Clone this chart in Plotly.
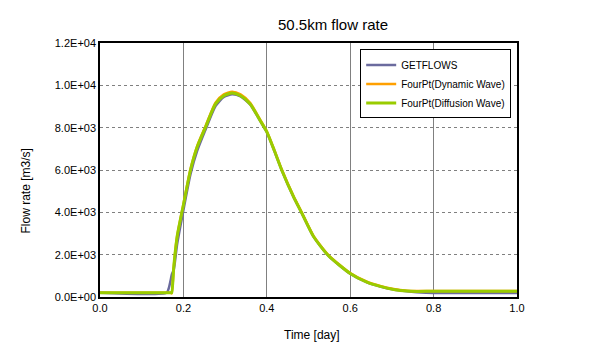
import plotly.graph_objects as go

# ---- data ----
time_day = [0.0, 0.16, 0.165, 0.17, 0.172, 0.177, 0.185, 0.2, 0.217, 0.233, 0.253,
            0.277, 0.297, 0.317, 0.337, 0.36, 0.384, 0.4, 0.418, 0.436, 0.464, 0.484,
            0.512, 0.548, 0.6, 0.64, 0.672, 0.704, 0.736, 0.76, 0.8, 1.0]

getflows = [200, 200, 420, 850, 1050, 1300, 2500, 4100, 5800, 6900, 7900,
            9020, 9450, 9580, 9480, 9100, 8320, 7780, 6900, 5980, 4730, 3950,
            2850, 1940, 1100, 690, 490, 350, 270, 230, 190, 190]

dynamic_wave = [200, 200, 200, 200, 170, 1450, 2880, 4380, 6040, 7130, 8070,
                9180, 9570, 9700, 9570, 9170, 8380, 7830, 6950, 6020, 4770, 3990,
                2890, 1980, 1130, 720, 520, 380, 300, 280, 280, 280]

diffusion_wave = [200, 200, 200, 200, 200, 1450, 2860, 4350, 6000, 7085, 8020,
                  9120, 9510, 9640, 9510, 9120, 8340, 7800, 6920, 5990, 4740, 3960,
                  2860, 1950, 1110, 700, 500, 357, 280, 265, 270, 270]

y_tick_vals = [0, 2000, 4000, 6000, 8000, 10000, 12000]
y_tick_text = ["0.0E+00", "2.0E+03", "4.0E+03", "6.0E+03", "8.0E+03", "1.0E+04", "1.2E+04"]
x_tick_vals = [0, 0.2, 0.4, 0.6, 0.8, 1.0]

series_names = ["GETFLOWS", "FourPt(Dynamic Wave)", "FourPt(Diffusion Wave)"]
series_colors = ["#6b6b9e", "#ffa000", "#99cc00"]

fig = go.Figure()
for name, vals, col, w in zip(series_names, [getflows, dynamic_wave, diffusion_wave],
                              series_colors, [2.5, 2.5, 3]):
    fig.add_trace(go.Scatter(x=time_day, y=vals, mode="lines", name=name,
                             line=dict(color=col, width=w, shape="spline", smoothing=0.6)))

OFF = 8  # browser body margin
W, H = 608 - OFF, 361 - OFF
# plot-area edges in reference window pixels
L, R, T, B = 99.5 - OFF, 517 - OFF, 42.5 - OFF, 297.5 - OFF


def px_to_paper(xp, yp):
    """window pixel (top-left origin) -> paper coordinates"""
    xp -= OFF
    yp -= OFF
    return (xp - L) / (R - L), (B - yp) / (B - T)


lx, ly = px_to_paper(360, 49)
tx, ty = px_to_paper(333, 24)
ax_x, ax_y = px_to_paper(312, 336)
ay_x, ay_y = px_to_paper(25, 191)

fig.update_layout(
    width=W, height=H,
    margin=dict(l=L, r=W - R, t=T, b=H - B, pad=0),
    paper_bgcolor="white", plot_bgcolor="white",
    font=dict(family="Liberation Sans, Arial, sans-serif", size=11, color="black"),
    showlegend=True,
    legend=dict(x=lx, y=ly, xanchor="left", yanchor="top",
                bgcolor="white", bordercolor="black", borderwidth=1,
                font=dict(size=10, family="Liberation Sans, Arial, sans-serif"),
                tracegroupgap=0, itemwidth=30),
    xaxis=dict(range=[0, 1], tickvals=x_tick_vals, tickformat=".1f",
               showgrid=True, gridcolor="#808080", gridwidth=1,
               showline=True, linecolor="black", linewidth=1.5, mirror=True,
               ticks="", zeroline=False, tickfont=dict(size=11)),
    yaxis=dict(range=[0, 12000], tickvals=y_tick_vals, ticktext=y_tick_text,
               showgrid=True, gridcolor="#808080", gridwidth=1, griddash="dot",
               showline=True, linecolor="black", linewidth=1.5, mirror=True,
               ticks="", zeroline=False, tickfont=dict(size=11)),
    annotations=[
        dict(text="50.5km flow rate", x=tx, y=ty, xref="paper", yref="paper",
             xanchor="center", yanchor="middle", showarrow=False, font=dict(size=15)),
        dict(text="Time [day]", x=ax_x, y=ax_y, xref="paper", yref="paper",
             xanchor="center", yanchor="middle", showarrow=False, font=dict(size=12)),
        dict(text="Flow rate [m3/s]", x=ay_x, y=ay_y, xref="paper", yref="paper",
             xanchor="center", yanchor="middle", showarrow=False, textangle=-90,
             font=dict(size=12)),
    ],
)

fig.write_html("out.html")
